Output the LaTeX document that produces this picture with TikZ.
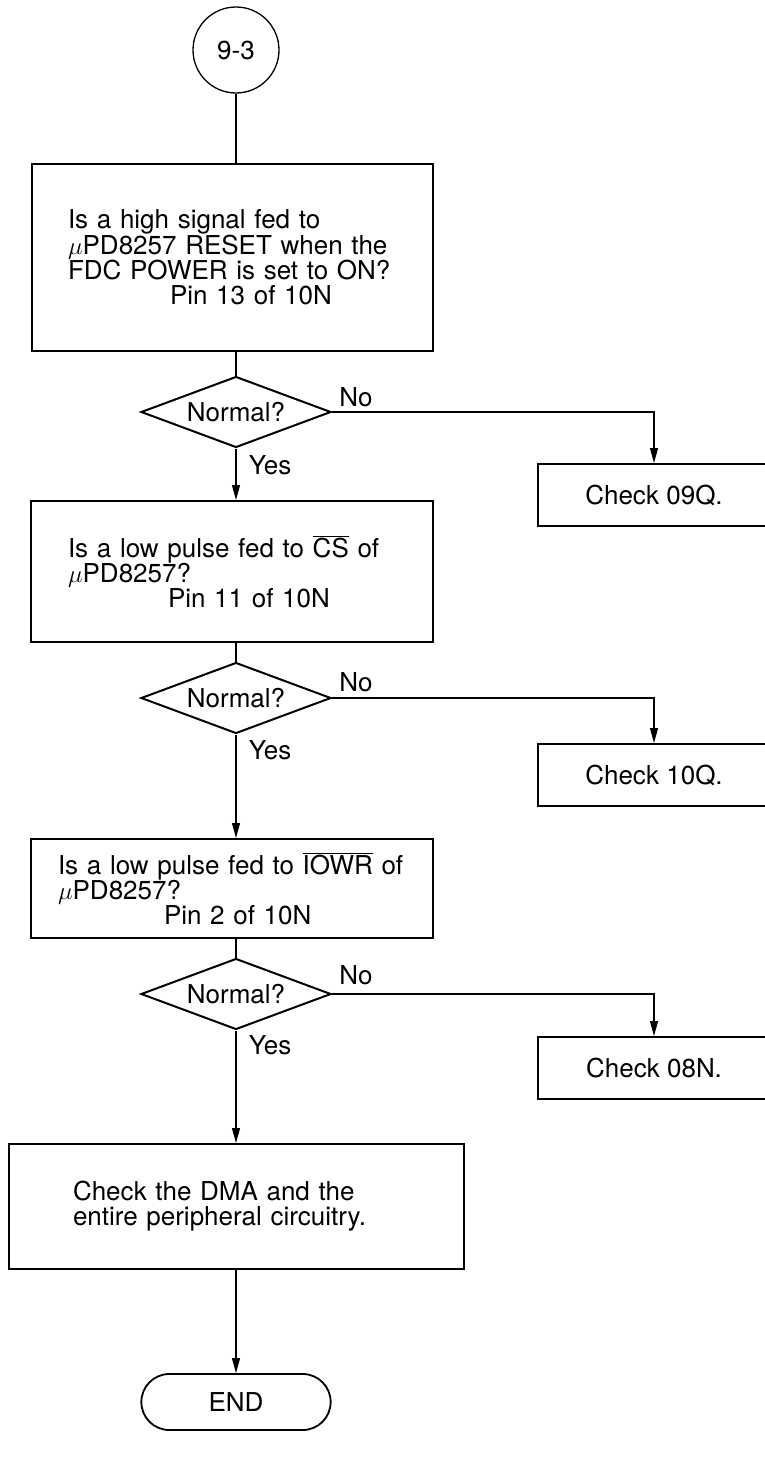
\documentclass[tikz,border=0pt]{standalone}
\usepackage{fontspec}
\setmainfont{TeX Gyre Heros}
\usetikzlibrary{arrows.meta,shapes.geometric,shapes.misc}

\begin{document}
\begin{tikzpicture}[x=1pt,y=-1pt,>={Triangle[length=15pt,width=8pt]},
    font=\fontsize{26}{25}\selectfont,
    qbox/.style={draw,line width=2pt,anchor=north west,align=left,inner ysep=0pt},
    decision/.style={draw,diamond,line width=2pt,aspect=2.66,inner sep=0pt,minimum width=190pt,minimum height=71pt},
    checkbox/.style={draw,line width=2pt,anchor=north west,minimum width=232pt,minimum height=62pt,inner sep=0pt},
    link/.style={line width=1.2pt}]
    \useasboundingbox (0,0) rectangle (764,1467);
    % start and questions
    \node[draw,circle,line width=1.3pt,minimum size=86pt,inner sep=0pt] (start) at (236,50) {9-3};
    \node[qbox,text width=329pt,inner xsep=36pt,minimum height=187pt] (q1) at (31,163)
        {Is a high signal fed to\\ $\mu$PD8257~RESET~when~the\\ FDC~POWER~is~set~to~ON?\\ \hspace*{102pt}Pin 13 of 10N};
    \node[decision] (d1) at (236,412) {Normal?};
    \node[checkbox] (c1) at (537,463) {Check 09Q.};
    \node[qbox,text width=328pt,inner xsep=37pt,minimum height=141pt] (q2) at (30,500)
        {Is a low pulse fed to $\overline{\mbox{CS}}$ of\\ $\mu$PD8257?\\ \hspace*{100pt}Pin 11 of 10N};
    \node[decision] (d2) at (236,698) {Normal?};
    \node[checkbox] (c2) at (537,743) {Check 10Q.};
    \node[qbox,text width=348pt,inner xsep=27pt,minimum height=99pt] (q3) at (30,838)
        {Is a low pulse fed to $\overline{\mbox{IOWR}}$ of\\ $\mu$PD8257?\\ \hspace*{106pt}Pin 2 of 10N};
    \node[decision] (d3) at (236,994) {Normal?};
    \node[checkbox] (c3) at (537,1036) {Check 08N.};
    \node[qbox,text width=327pt,inner xsep=64pt,minimum height=125pt] (q4) at (8,1143)
        {Check the DMA and the\\ entire peripheral circuitry.};
    \node[draw,rounded rectangle,line width=1.8pt,minimum width=196pt,minimum height=56pt] (stop) at (236,1402) {END};
    % labels
    \node (no1) at (356,397) {No};
    \node (yes1) at (270,465) {Yes};
    \node (no2) at (356,682) {No};
    \node (yes2) at (270,750) {Yes};
    \node (no3) at (356,975) {No};
    \node (yes3) at (270,1045) {Yes};
    % connectors
    \draw[link] (start) -- (start |- q1.north);
    \draw[link] (q1.south -| d1) -- (d1.north);
    \draw[link,->] (d1.south) -- (d1.south |- q2.north);
    \draw[link,->] (d1.east) -| (c1.north);
    \draw[link] (q2.south -| d2) -- (d2.north);
    \draw[link,->] (d2.south) -- (d2.south |- q3.north);
    \draw[link,->] (d2.east) -| (c2.north);
    \draw[link] (q3.south -| d3) -- (d3.north);
    \draw[link,->] (d3.south) -- (d3.south |- q4.north);
    \draw[link,->] (d3.east) -| (c3.north);
    \draw[link,->] (q4.south -| stop) -- (stop.north);
\end{tikzpicture}
\end{document}
